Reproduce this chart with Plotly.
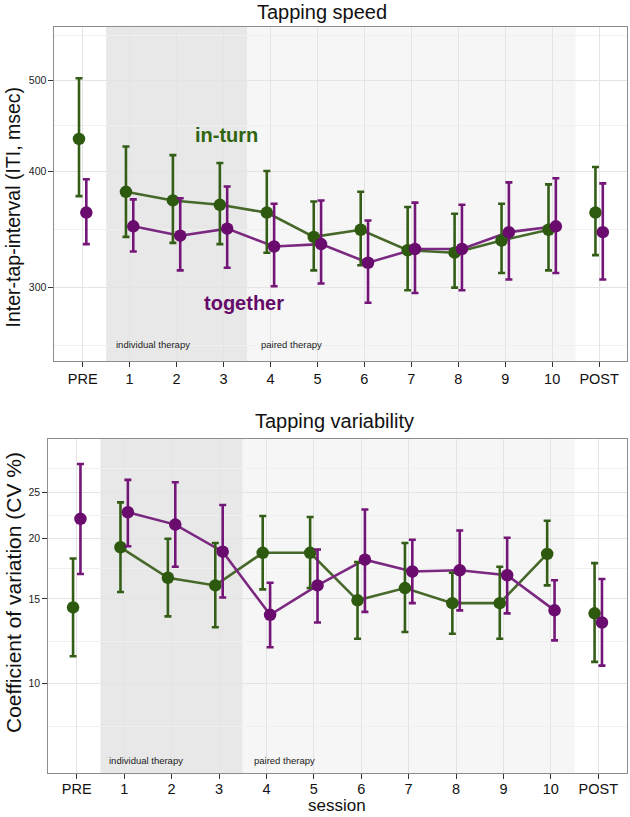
import math
import plotly.graph_objects as go

# ---------------- data ----------------
sessions = ["PRE", "1", "2", "3", "4", "5", "6", "7", "8", "9", "10", "POST"]

iti_inturn_mean = [433, 380, 372, 368, 361, 340, 346, 329, 327, 337, 346, 361]
iti_inturn_lo = [376, 340, 335, 334, 327, 313, 317, 298, 300, 311, 313, 325]
iti_inturn_hi = [503, 425, 416, 408, 400, 371, 380, 366, 360, 369, 387, 404]
iti_together_mean = [361, 349, 341, 347, 332, 334, 319, 330, 330, 344, 349, 344]
iti_together_lo = [334, 328, 313, 315, 301, 303, 289, 296, 298, 306, 311, 306]
iti_together_hi = [392, 373, 374, 385, 369, 372, 354, 370, 368, 389, 393, 388]

cv_inturn_mean = [14.4, 19.2, 16.6, 16.0, 18.7, 18.7, 14.9, 15.8, 14.7, 14.7, 18.6, 14.0]
cv_inturn_lo = [11.4, 15.5, 13.8, 13.1, 15.7, 15.8, 12.4, 12.8, 12.7, 12.4, 16.0, 11.1]
cv_inturn_hi = [18.2, 23.8, 20.0, 19.6, 22.3, 22.2, 17.9, 19.6, 17.0, 17.5, 21.8, 17.8]
cv_together_mean = [22.0, 22.7, 21.4, 18.8, 13.9, 16.0, 18.1, 17.1, 17.2, 16.8, 14.2, 13.4]
cv_together_lo = [16.9, 19.3, 17.5, 15.1, 11.9, 13.4, 14.1, 14.7, 14.2, 14.0, 12.3, 10.9]
cv_together_hi = [28.6, 26.5, 26.2, 23.5, 16.2, 19.0, 23.0, 19.9, 20.8, 20.1, 16.4, 16.5]

iti_ticks = [300, 400, 500]
cv_ticks = [10, 15, 20, 25]

# ---------------- styling ----------------
FONT = "Liberation Sans, Arial, Helvetica, sans-serif"
GREEN_PT, GREEN_LN, GREEN_ER = "#2D5A0F", "#46682A", "#345E17"
PURP_PT, PURP_LN, PURP_ER = "#6A0B6E", "#7A2880", "#741578"
DODGE = 0.078
pos = list(range(len(sessions)))

fig = go.Figure()


def add_panel(xa, ya, g_mean, g_lo, g_hi, p_mean, p_lo, p_hi):
    series = [
        (g_mean, g_lo, g_hi, -DODGE, GREEN_PT, GREEN_LN, GREEN_ER),
        (p_mean, p_lo, p_hi, DODGE, PURP_PT, PURP_LN, PURP_ER),
    ]
    # lines (sessions 1..10 only)
    for mean, lo, hi, off, cpt, cln, cer in series:
        xs = [p + off for p in pos[1:11]]
        fig.add_trace(go.Scatter(x=xs, y=mean[1:11], mode="lines",
                                 line=dict(color=cln, width=2.6),
                                 xaxis=xa, yaxis=ya, hoverinfo="skip"))
    for mean, lo, hi, off, cpt, cln, cer in series:
        xs = [p + off for p in pos]
        fig.add_trace(go.Scatter(
            x=xs, y=mean, mode="markers",
            marker=dict(color=cpt, size=12.5, line=dict(width=0)),
            error_y=dict(type="data", symmetric=False,
                         array=[h - m for h, m in zip(hi, mean)],
                         arrayminus=[m - l for m, l in zip(mean, lo)],
                         color=cer, thickness=2.6, width=3.5),
            xaxis=xa, yaxis=ya))


add_panel("x", "y", iti_inturn_mean, iti_inturn_lo, iti_inturn_hi,
          iti_together_mean, iti_together_lo, iti_together_hi)
add_panel("x2", "y2", cv_inturn_mean, cv_inturn_lo, cv_inturn_hi,
          cv_together_mean, cv_together_lo, cv_together_hi)


def geo_mid(a, b):
    return math.sqrt(a * b)


def minor_vals(ticks):
    ext_lo = ticks[0] ** 2 / ticks[1]
    ext_hi = ticks[-1] ** 2 / ticks[-2]
    full = [ext_lo] + ticks + [ext_hi]
    return [geo_mid(full[i], full[i + 1]) for i in range(len(full) - 1)]


xaxis_common = dict(
    range=[-0.6, 11.6], tickmode="array", tickvals=pos, ticktext=sessions,
    ticks="outside", ticklen=5, tickwidth=1, tickcolor="#333333",
    tickfont=dict(size=14.5, color="#111111", family=FONT),
    showgrid=True, gridcolor="#E4E4E4", gridwidth=1,
    showline=True, mirror=True, linecolor="#8C8C8C", linewidth=1,
    zeroline=False,
)
yaxis_common = dict(
    type="log", ticks="outside", ticklen=5, tickwidth=1, tickcolor="#333333",
    tickfont=dict(size=10.5, color="#222222", family=FONT),
    showgrid=True, gridcolor="#E4E4E4", gridwidth=1,
    showline=True, mirror=True, linecolor="#8C8C8C", linewidth=1,
    zeroline=False,
)

fig.update_layout(
    width=630, height=817,
    margin=dict(l=0, r=0, t=0, b=0),
    paper_bgcolor="white", plot_bgcolor="white",
    showlegend=False,
    font=dict(family=FONT, color="#111111"),
    xaxis=dict(domain=[0.0865, 0.9957], anchor="y", **xaxis_common),
    yaxis=dict(domain=[0.5581, 0.9670], anchor="x",
               range=[2.3984, 2.7565],
               tickmode="array", tickvals=iti_ticks,
               ticktext=[str(v) for v in iti_ticks],
               minor=dict(tickmode="array", tickvals=minor_vals(iti_ticks),
                          showgrid=True, gridcolor="#F0F0F0", ticks=""),
               **yaxis_common),
    xaxis2=dict(domain=[0.0767, 0.9948], anchor="y2", ticklabelstandoff=-3,
                **xaxis_common),
    yaxis2=dict(domain=[0.0535, 0.4627], anchor="x2",
                range=[0.8139, 1.5083],
                tickmode="array", tickvals=cv_ticks,
                ticktext=[str(v) for v in cv_ticks],
                minor=dict(tickmode="array", tickvals=minor_vals(cv_ticks),
                           showgrid=True, gridcolor="#F0F0F0", ticks=""),
                **yaxis_common),
)

# shaded therapy phases
for xr, yr in [("x", "y domain"), ("x2", "y2 domain")]:
    fig.add_shape(type="rect", xref=xr, yref=yr, x0=0.5, x1=3.5, y0=0, y1=1,
                  fillcolor="#E8E8E8", line=dict(width=0), layer="below")
    fig.add_shape(type="rect", xref=xr, yref=yr, x0=3.5, x1=10.5, y0=0, y1=1,
                  fillcolor="#F6F6F6", line=dict(width=0), layer="below")

ann = []
# panel titles
ann.append(dict(text="Tapping speed", xref="paper", yref="paper", x=0.511, y=0.985,
                xanchor="center", yanchor="middle", showarrow=False,
                font=dict(size=20, color="#111111", family=FONT)))
ann.append(dict(text="Tapping variability", xref="paper", yref="paper", x=0.531, y=0.4847,
                xanchor="center", yanchor="middle", showarrow=False,
                font=dict(size=20, color="#111111", family=FONT)))
# axis titles
ann.append(dict(text="Inter-tap-interval (ITI, msec)", xref="paper", yref="paper",
                x=0.0206, y=0.7473, textangle=-90, xanchor="center", yanchor="middle",
                showarrow=False, font=dict(size=19.5, color="#111111", family=FONT)))
ann.append(dict(text="Coefficient of variation (CV %)", xref="paper", yref="paper",
                x=0.0222, y=0.2754, textangle=-90, xanchor="center", yanchor="middle",
                showarrow=False, font=dict(size=21, color="#111111", family=FONT)))
ann.append(dict(text="session", xref="paper", yref="paper", x=0.5357, y=0.0,
                xanchor="center", yanchor="bottom", showarrow=False,
                font=dict(size=17, color="#111111", family=FONT)))
# phase labels
ann.append(dict(text="individual therapy", xref="x", yref="y", x=0.67, y=math.log10(260.4),
                xanchor="left", yanchor="middle", showarrow=False,
                font=dict(size=9.5, color="#222222", family=FONT)))
ann.append(dict(text="paired therapy", xref="x", yref="y", x=3.76, y=math.log10(260.4),
                xanchor="left", yanchor="middle", showarrow=False,
                font=dict(size=9.5, color="#222222", family=FONT)))
ann.append(dict(text="individual therapy", xref="x2", yref="y2", x=0.63, y=math.log10(6.94),
                xanchor="left", yanchor="middle", showarrow=False,
                font=dict(size=9.5, color="#222222", family=FONT)))
ann.append(dict(text="paired therapy", xref="x2", yref="y2", x=3.70, y=math.log10(6.94),
                xanchor="left", yanchor="middle", showarrow=False,
                font=dict(size=9.5, color="#222222", family=FONT)))
# series labels
ann.append(dict(text="<b>in-turn</b>", xref="x", yref="y", x=3.07, y=math.log10(437),
                xanchor="center", yanchor="middle", showarrow=False,
                font=dict(size=20, color="#2F6410", family=FONT)))
ann.append(dict(text="<b>together</b>", xref="x", yref="y", x=3.43, y=math.log10(289),
                xanchor="center", yanchor="middle", showarrow=False,
                font=dict(size=20, color="#650A69", family=FONT)))

fig.update_layout(annotations=ann)

fig.write_html("out.html",
               config={"displayModeBar": False},
               post_script="document.body.style.margin='0';document.body.style.overflow='hidden';")
